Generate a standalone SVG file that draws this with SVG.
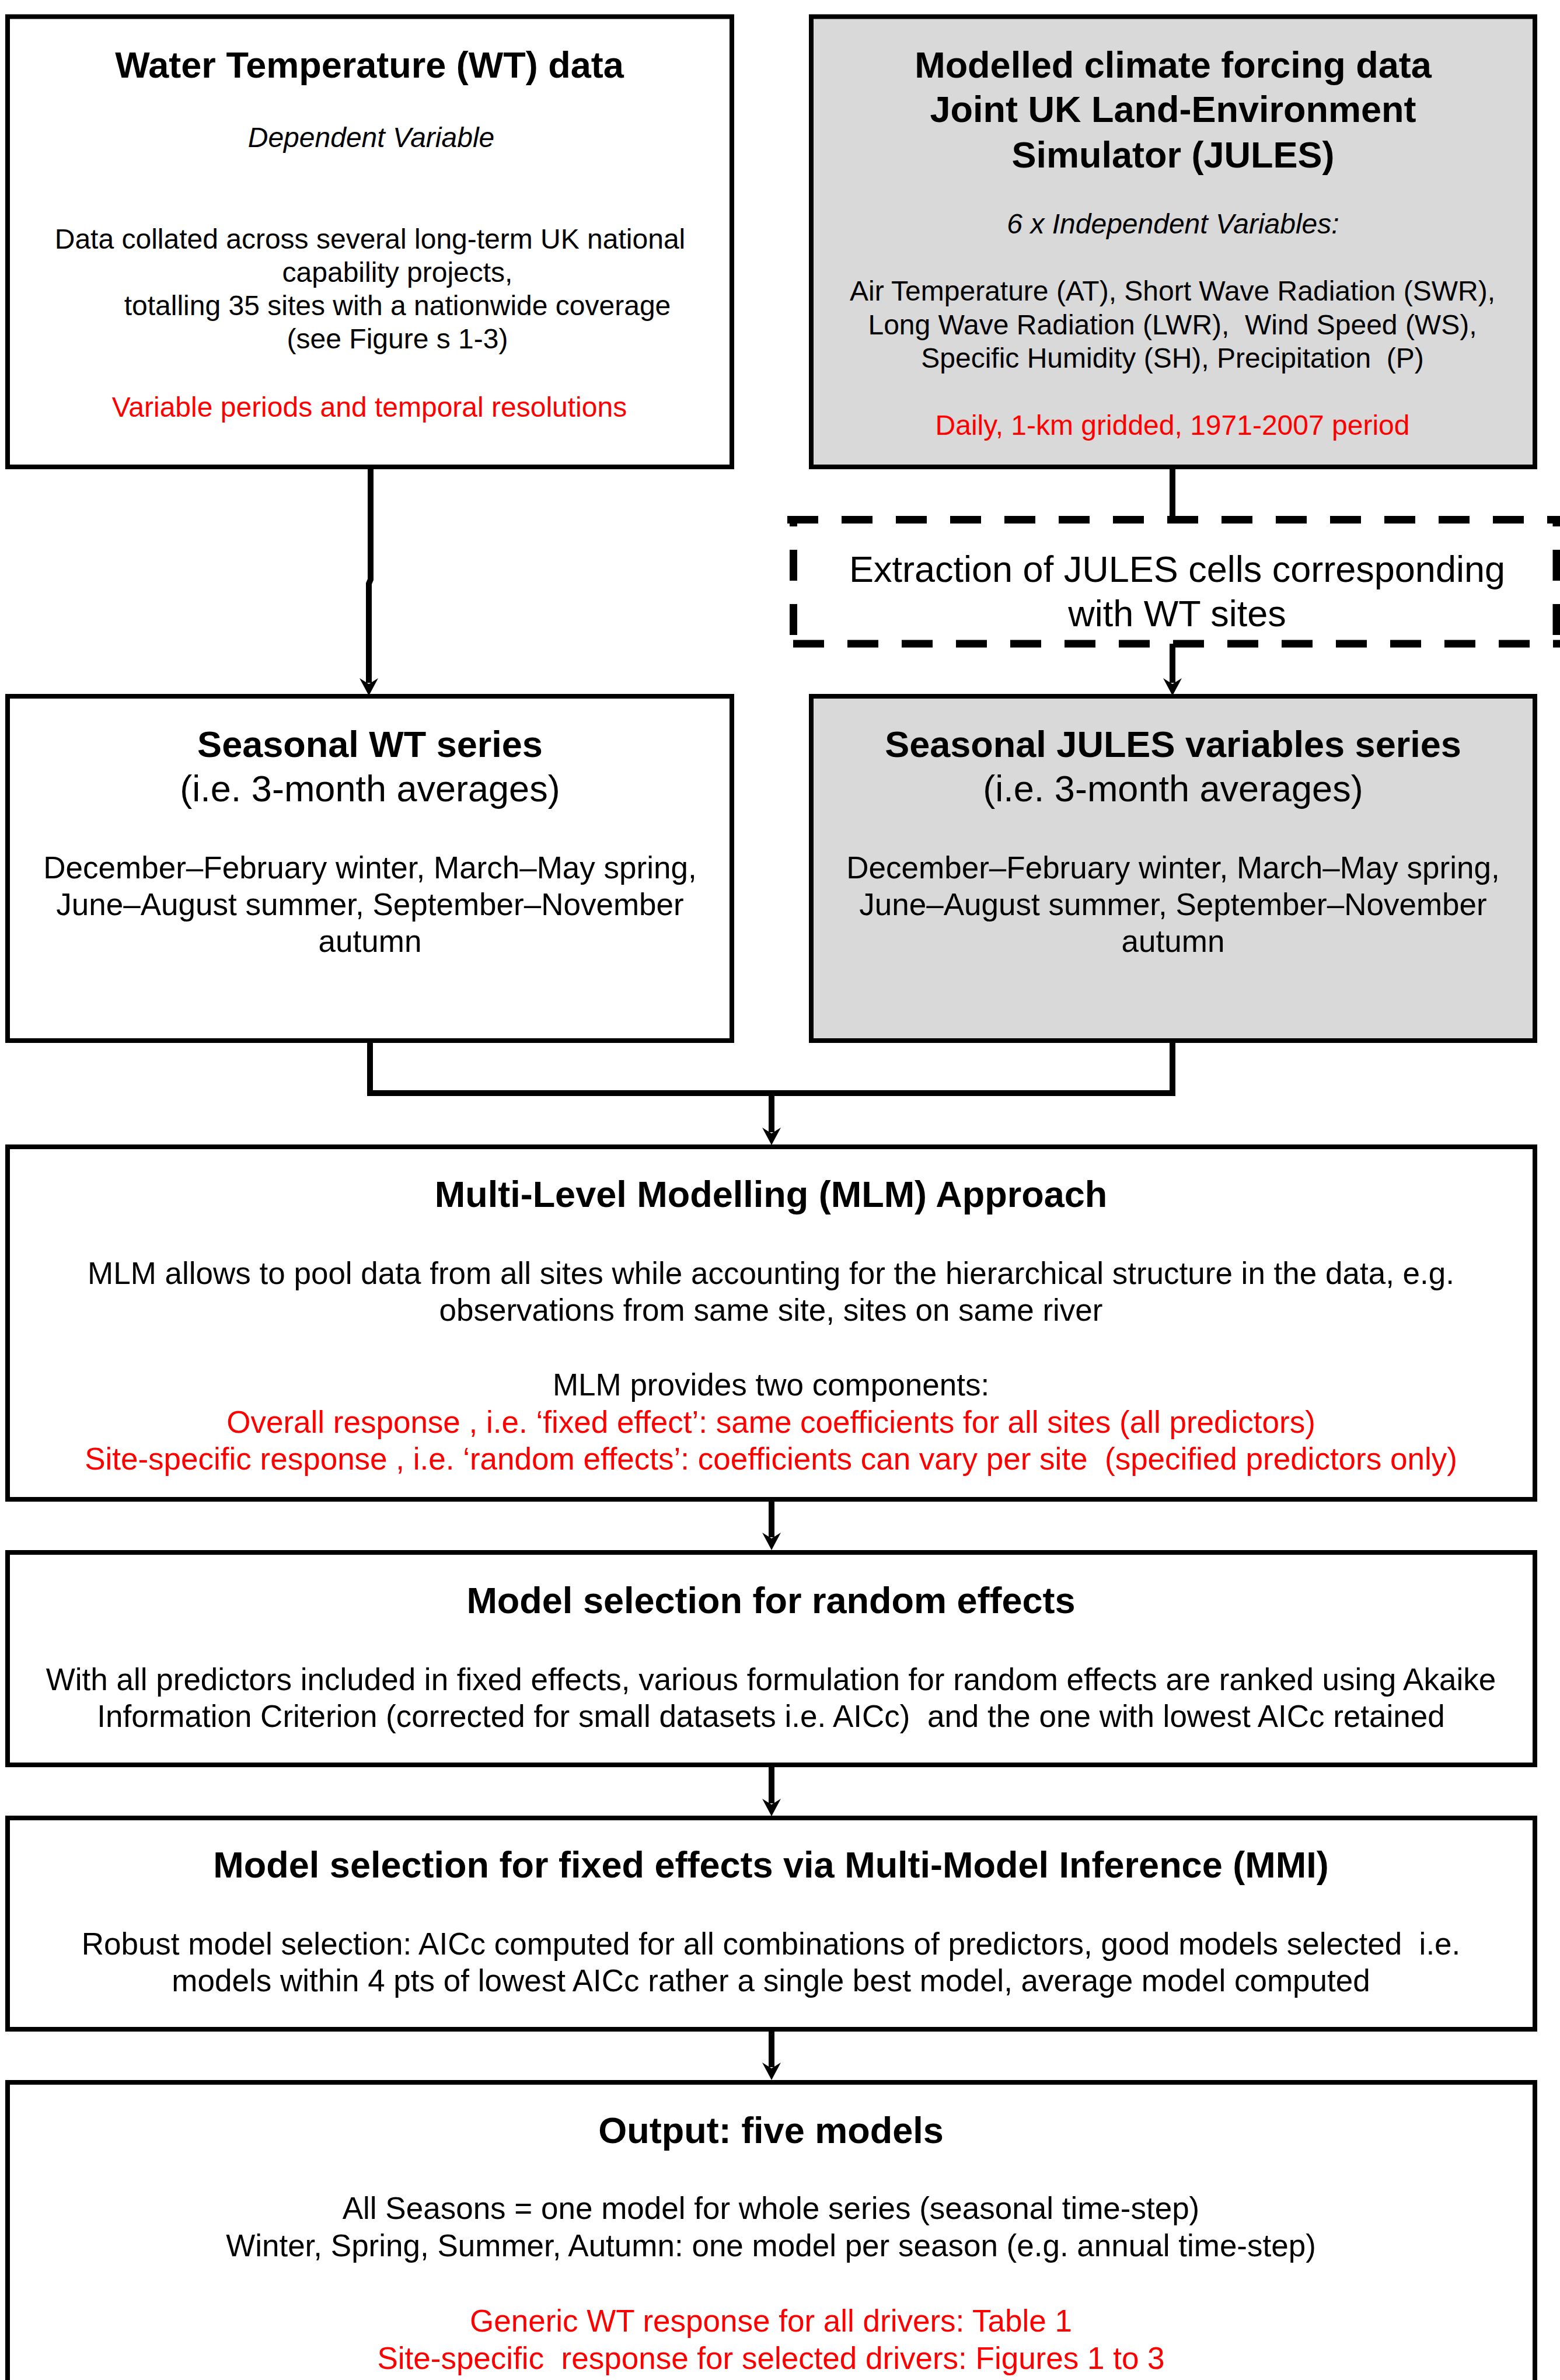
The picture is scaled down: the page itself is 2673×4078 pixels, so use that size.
<svg xmlns="http://www.w3.org/2000/svg" width="2673" height="4078" viewBox="0 0 2673 4078">
<style>
.box{fill:#ffffff;stroke:#000000;stroke-width:8}
.gray{fill:#d9d9d9}
.t{font-family:"Liberation Sans",Arial,sans-serif;fill:#000000;text-anchor:middle;white-space:pre}
.h{font-size:63px;font-weight:bold}
.b48{font-size:48px}
.b53{font-size:53px}
.b63{font-size:63px}
.i{font-style:italic}
.red{fill:#ff0000}
.conn{fill:none;stroke:#000000;stroke-width:10}
.dash{fill:none;stroke:#000000;stroke-width:13;stroke-dasharray:53 40}
</style>
<defs>
<marker id="arr" markerUnits="userSpaceOnUse" markerWidth="60" markerHeight="60" refX="0" refY="0" viewBox="-20 -30 60 60" orient="auto" overflow="visible">
<path d="M22,0 L-8,-16 L2,0 L-8,16 Z" fill="#000000"/>
</marker>
</defs>
<rect width="2673" height="4078" fill="#ffffff"/>

<g id="connectors">
<path class="conn" d="M635,804 V993 L632,1000 V1170" marker-end="url(#arr)"/>
<path class="conn" d="M2009,804 V884"/>
<path class="conn" d="M2009,1103 V1170" marker-end="url(#arr)"/>
<path class="conn" d="M634,1787 V1873 H2009 V1787"/>
<path class="conn" d="M1322,1873 V1940" marker-end="url(#arr)"/>
<path class="conn" d="M1322,2573 V2634" marker-end="url(#arr)"/>
<path class="conn" d="M1322,3028 V3090" marker-end="url(#arr)"/>
<path class="conn" d="M1322,3481 V3542" marker-end="url(#arr)"/>
</g>

<g id="wt-data">
<rect class="box" x="13" y="28.5" width="1241" height="771.5"/>
<text class="t h" x="633" y="133">Water Temperature (WT) data</text>
<text class="t b48 i" x="636" y="252">Dependent Variable</text>
<text class="t b48" x="634" y="426">Data collated across several long-term UK national</text>
<text class="t b48" x="681" y="483">capability projects,</text>
<text class="t b48" x="681" y="540">totalling 35 sites with a nationwide coverage</text>
<text class="t b48" x="681" y="597">(see Figure s 1-3)</text>
<text class="t b48 red" x="633" y="714">Variable periods and temporal resolutions</text>
</g>

<g id="jules-data">
<rect class="box gray" x="1390" y="28.5" width="1240" height="771.5"/>
<text class="t h" x="2010" y="133">Modelled climate forcing data</text>
<text class="t h" x="2010" y="209">Joint UK Land-Environment</text>
<text class="t h" x="2010" y="287">Simulator (JULES)</text>
<text class="t b48 i" x="2010" y="400">6 x Independent Variables:</text>
<text class="t b48" x="2009" y="515">Air Temperature (AT), Short Wave Radiation (SWR),</text>
<text class="t b48" x="2009" y="573">Long Wave Radiation (LWR),  Wind Speed (WS),</text>
<text class="t b48" x="2009" y="630">Specific Humidity (SH), Precipitation  (P)</text>
<text class="t b48 red" x="2009" y="745">Daily, 1-km gridded, 1971-2007 period</text>
</g>

<g id="extraction">
<line class="dash" x1="1349" y1="890.5" x2="2673" y2="890.5"/>
<line class="dash" x1="1359.5" y1="884" x2="1359.5" y2="1109" style="stroke-dashoffset:35"/>
<line class="dash" x1="1359" y1="1103" x2="2673" y2="1103"/>
<line class="dash" x1="2667" y1="884" x2="2667" y2="1109" style="stroke-dashoffset:35"/>
<text class="t b63" x="2017" y="997">Extraction of JULES cells corresponding</text>
<text class="t b63" x="2017" y="1073">with WT sites</text>
</g>

<g id="seasonal-wt">
<rect class="box" x="13" y="1193" width="1241" height="590"/>
<text class="t h" x="634" y="1297">Seasonal WT series</text>
<text class="t b63" x="634" y="1373">(i.e. 3-month averages)</text>
<text class="t b53" x="634" y="1505">December–February winter, March–May spring,</text>
<text class="t b53" x="634" y="1568">June–August summer, September–November</text>
<text class="t b53" x="634" y="1631">autumn</text>
</g>

<g id="seasonal-jules">
<rect class="box gray" x="1390" y="1193" width="1240" height="590"/>
<text class="t h" x="2010" y="1297">Seasonal JULES variables series</text>
<text class="t b63" x="2010" y="1373">(i.e. 3-month averages)</text>
<text class="t b53" x="2010" y="1505">December–February winter, March–May spring,</text>
<text class="t b53" x="2010" y="1568">June–August summer, September–November</text>
<text class="t b53" x="2010" y="1631">autumn</text>
</g>

<g id="mlm">
<rect class="box" x="13" y="1965" width="2617" height="604"/>
<text class="t h" x="1321" y="2068">Multi-Level Modelling (MLM) Approach</text>
<text class="t b53" x="1321" y="2200">MLM allows to pool data from all sites while accounting for the hierarchical structure in the data, e.g.</text>
<text class="t b53" x="1321" y="2263">observations from same site, sites on same river</text>
<text class="t b53" x="1321" y="2391">MLM provides two components:</text>
<text class="t b53 red" x="1321" y="2455">Overall response , i.e. ‘fixed effect’: same coefficients for all sites (all predictors)</text>
<text class="t b53 red" x="1321" y="2518">Site-specific response , i.e. ‘random effects’: coefficients can vary per site  (specified predictors only)</text>
</g>

<g id="random-effects">
<rect class="box" x="13" y="2660" width="2617" height="364"/>
<text class="t h" x="1321" y="2764">Model selection for random effects</text>
<text class="t b53" x="1321" y="2896">With all predictors included in fixed effects, various formulation for random effects are ranked using Akaike</text>
<text class="t b53" x="1321" y="2959">Information Criterion (corrected for small datasets i.e. AICc)  and the one with lowest AICc retained</text>
</g>

<g id="fixed-effects">
<rect class="box" x="13" y="3115" width="2617" height="362"/>
<text class="t h" x="1321" y="3217">Model selection for fixed effects via Multi-Model Inference (MMI)</text>
<text class="t b53" x="1321" y="3349">Robust model selection: AICc computed for all combinations of predictors, good models selected  i.e.</text>
<text class="t b53" x="1321" y="3412">models within 4 pts of lowest AICc rather a single best model, average model computed</text>
</g>

<g id="output">
<rect class="box" x="13" y="3568" width="2617" height="560"/>
<text class="t h" x="1321" y="3672">Output: five models</text>
<text class="t b53" x="1321" y="3802">All Seasons = one model for whole series (seasonal time-step)</text>
<text class="t b53" x="1321" y="3866">Winter, Spring, Summer, Autumn: one model per season (e.g. annual time-step)</text>
<text class="t b53 red" x="1321" y="3995">Generic WT response for all drivers: Table 1</text>
<text class="t b53 red" x="1321" y="4059">Site-specific  response for selected drivers: Figures 1 to 3</text>
</g>
</svg>
